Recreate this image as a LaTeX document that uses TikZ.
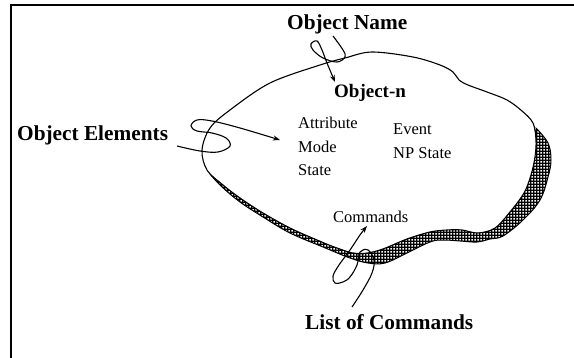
\documentclass[tikz,border=0pt]{standalone}
\usepackage{fontspec}
\setmainfont{Liberation Serif}
\usetikzlibrary{patterns,patterns.meta,arrows.meta}
% small square holes used to lighten the rim
\tikzdeclarepattern{
  name=holes,
  type=uncolored,
  bottom left={(0pt,0pt)},
  top right={(3pt,3pt)},
  tile size={(3pt,3pt)},
  code={\fill (0.4pt,0.4pt) rectangle (2.5pt,2.5pt);}
}
\begin{document}
\begin{tikzpicture}[x=1pt,y=-1pt,
  biglabel/.style={font=\fontsize{21.3}{24}\selectfont\bfseries, inner sep=0pt, anchor=base west},
  namelabel/.style={font=\fontsize{19}{22}\selectfont\bfseries, inner sep=0pt, anchor=base west},
  item/.style={font=\fontsize{16.5}{19}\selectfont, inner sep=0pt, anchor=base west},
  outline/.style={line width=1.1pt, line join=round},
  pointer/.style={line width=1.1pt, -{Stealth[length=7pt,width=5pt]}},
  band/.style={fill=black},
  banddots/.style={pattern=holes, pattern color=white}
]
\useasboundingbox (0,0) rectangle (574,358);

% frame (top and left edges)
\draw[line width=1.4pt] (11,358) -- (11,5) -- (574,5);

% shaded rim along the lower right of the object
\def\rimpath{
  plot[smooth, tension=0.6] coordinates {(536,128) (548,143) (551,160) (548,177) (540,200) (523,220) (503,236) (490,239) (477,242) (460,241) (443,240) (430,242) (407,253) (385,263) (368,263) (350,258) (323,247) (290,233) (263,217) (240,202) (221,186) (210,174)}
  -- plot[smooth, tension=0.6] coordinates {(223,185) (240,198) (263,213) (290,228) (317,240) (337,248) (358,253) (380,250) (407,239) (430,232) (447,230) (462,230) (478,233) (495,228) (510,212) (524,193) (531,175) (535,157) (536,140) (534,127)}
  -- cycle}
\path[band] \rimpath;
\path[banddots] \rimpath;
\draw[line width=1pt]
  plot[smooth, tension=0.6] coordinates {(536,128) (548,143) (551,160) (548,177) (540,200) (523,220) (503,236) (490,239) (477,242) (460,241) (443,240) (430,242) (407,253) (385,263) (368,263) (350,258) (323,247) (290,233) (263,217) (240,202) (221,186) (210,174)};

% object outline
\draw[outline] plot[smooth cycle, tension=0.55] coordinates {
  (202,150) (210,128) (230,110) (270,83) (320,65) (345,58) (372,52) (413,57)
  (440,65) (453,72) (459,80) (468,85) (487,92) (507,100) (522,111) (533,123)
  (536,140) (535,157) (531,175) (524,193) (510,212) (495,228) (478,233)
  (462,230) (447,230) (430,232) (407,239) (380,250) (358,254) (337,248)
  (317,240) (290,228) (263,213) (240,198) (223,185) (207,170)};

% labels
\node[biglabel] (objname) at (287,30) {Object Name};
\node[namelabel] (objn) at (334,98) {Object-n};
\node[biglabel] (objelem) at (17,141) {Object Elements};
\node[item] (attr) at (298,128.5) {Attribute};
\node[item] (mode) at (298,152.5) {Mode};
\node[item] (state) at (298,175.5) {State};
\node[item] (event) at (393,134.5) {Event};
\node[item] (npstate) at (393,158.5) {NP State};
\node[item] (cmds) at (333,222.5) {Commands};
\node[biglabel] (listcmds) at (305,330) {List of Commands};

% connector waypoints
\coordinate (nameStart) at (333,36);
\coordinate (nameTip) at (335,82);
\coordinate (elemStart) at (177,146);
\coordinate (elemTip) at (280,140);
\coordinate (listStart) at (352,307);
\coordinate (cmdTip) at (367,226);

% object name pointer, looping across the outline
\draw[pointer] plot[smooth, tension=0.6] coordinates {
  (nameStart) (343,50) (345,57) (337,62) (323,58) (313,50) (311,44) (317,41)
  (322,50) (327,63) (nameTip)};

% object elements pointer
\draw[pointer] plot[smooth, tension=0.6] coordinates {
  (elemStart) (200,151) (218,152) (230,146) (226,138) (212,133) (197,131)
  (191,126) (197,120) (212,121) (240,128) (elemTip)};

% list of commands pointer
\draw[pointer] plot[smooth, tension=0.6] coordinates {
  (listStart) (363,290) (372,273) (374,260) (368,250) (360,252) (357,265)
  (350,277) (343,282) (335,283) (333,276) (339,265) (350,250) (360,235) (cmdTip)};
\end{tikzpicture}
\end{document}
